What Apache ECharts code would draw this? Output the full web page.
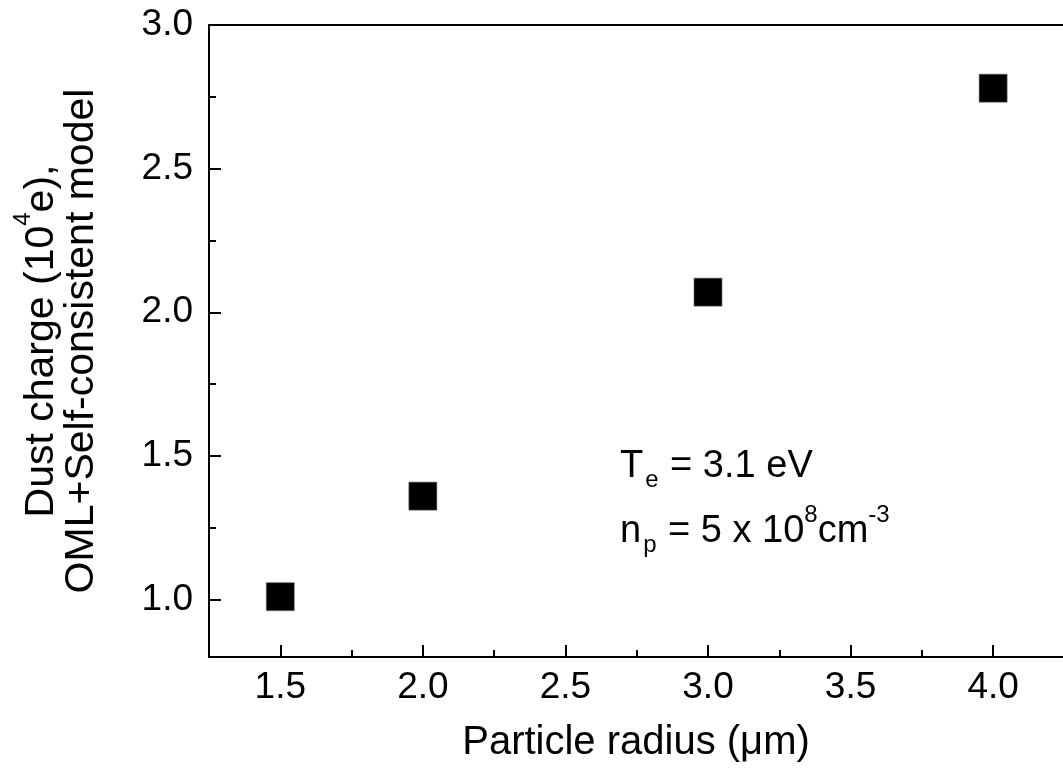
<!DOCTYPE html>
<html>
<head>
<meta charset="utf-8">
<script src="https://cdn.jsdelivr.net/npm/echarts@6/dist/echarts.min.js"></script>
<style>
html,body{margin:0;padding:0;background:#fff;overflow:hidden;}
#chart{width:1063px;height:778px;}
</style>
</head>
<body>
<div id="chart"></div>
<script>
const radius = [1.5, 2.0, 3.0, 4.0];
const charge = [1.01, 1.36, 2.07, 2.78];
const xMajorTicks = [1.5, 2.0, 2.5, 3.0, 3.5, 4.0];
const xMinorTicks = [1.75, 2.25, 2.75, 3.25, 3.75];
const yMajorTicks = [1.0, 1.5, 2.0, 2.5, 3.0];
const yMinorTicks = [1.25, 1.75, 2.25, 2.75];
const xTitle = 'Particle radius (\u03bcm)';
const yTitleLine1 = ['Dust charge (10', '4', 'e),'];
const yTitleLine2 = 'OML+Self-consistent model';
const noteTe = ['T', 'e', ' = 3.1 eV'];
const noteNp = ['n', 'p', ' = 5 x 10', '8', 'cm', '-3'];

const FONT = 'Liberation Sans, Arial, sans-serif';
const TICK_FS = 37;
const TITLE_FS = 40;
const X_MIN = 1.25, X_MAX = 4.245, Y_MIN = 0.8, Y_MAX = 3.0;

const chart = echarts.init(document.getElementById('chart'));
const fmt = v => Number(v).toFixed(1);

function rich(fs) {
  return {
    t: {fontSize: fs, fontFamily: FONT, color: '#000', padding: [10, 0, 0, 0], lineHeight: 40, verticalAlign: 'top'},
    sup: {fontSize: 24, fontFamily: FONT, color: '#000', lineHeight: 24, verticalAlign: 'top'},
    sub: {fontSize: 24, fontFamily: FONT, color: '#000', lineHeight: 24, padding: [30, 1, 0, 2], verticalAlign: 'top'}
  };
}

const option = {
  backgroundColor: '#fff',
  animation: false,
  grid: {left: 209, top: 25, width: 854, height: 632, containLabel: false, outerBoundsMode: 'none'},
  xAxis: [
    {
      type: 'value', min: X_MIN, max: X_MAX, interval: 0.25,
      position: 'bottom',
      name: xTitle, nameLocation: 'middle', nameGap: 66,
      nameTextStyle: {fontSize: TITLE_FS, fontFamily: FONT, color: '#000', verticalAlign: 'top'},
      axisLine: {show: true, onZero: false, lineStyle: {color: '#000', width: 2}},
      axisTick: {show: true, inside: true, length: 12, customValues: xMajorTicks, lineStyle: {color: '#000', width: 2}},
      axisLabel: {show: true, customValues: xMajorTicks, formatter: fmt, fontSize: TICK_FS, fontFamily: FONT, color: '#000', margin: 12},
      splitLine: {show: false}
    },
    {
      type: 'value', min: X_MIN, max: X_MAX, interval: 0.25,
      position: 'bottom',
      axisLine: {show: false},
      axisTick: {show: true, inside: true, length: 7, customValues: xMinorTicks, lineStyle: {color: '#000', width: 2}},
      axisLabel: {show: false},
      splitLine: {show: false}
    },
    {
      type: 'value', min: X_MIN, max: X_MAX, interval: 0.25,
      position: 'top',
      axisLine: {show: true, onZero: false, lineStyle: {color: '#000', width: 2}},
      axisTick: {show: false},
      axisLabel: {show: false},
      splitLine: {show: false}
    }
  ],
  yAxis: [
    {
      type: 'value', min: Y_MIN, max: Y_MAX, interval: 0.1,
      position: 'left',
      name: [
        '{t|' + yTitleLine1[0] + '}{sup|' + yTitleLine1[1] + '}{t|' + yTitleLine1[2] + '}',
        '{t|' + yTitleLine2 + '}'
      ].join('\n'),
      nameLocation: 'middle', nameGap: 118, nameRotate: 90,
      nameTextStyle: {rich: rich(41), align: 'center'},
      axisLine: {show: true, onZero: false, lineStyle: {color: '#000', width: 2}},
      axisTick: {show: true, inside: true, length: 12, customValues: yMajorTicks, lineStyle: {color: '#000', width: 2}},
      axisLabel: {show: true, customValues: yMajorTicks, formatter: fmt, fontSize: TICK_FS, fontFamily: FONT, color: '#000', margin: 16},
      splitLine: {show: false}
    },
    {
      type: 'value', min: Y_MIN, max: Y_MAX, interval: 0.1,
      position: 'left',
      axisLine: {show: false},
      axisTick: {show: true, inside: true, length: 7, customValues: yMinorTicks, lineStyle: {color: '#000', width: 2}},
      axisLabel: {show: false},
      splitLine: {show: false}
    }
  ],
  series: [{
    type: 'scatter',
    xAxisIndex: 0, yAxisIndex: 0,
    symbol: 'rect', symbolSize: 28,
    itemStyle: {color: '#000', opacity: 1, borderColor: '#666', borderWidth: 0.6},
    data: radius.map((r, i) => [r, charge[i]])
  }],
  graphic: [
    {
      type: 'text', left: 620, top: 438,
      style: {
        text: '{t|' + noteTe[0] + '}{sub|' + noteTe[1] + '}{t|' + noteTe[2] + '}',
        rich: rich(38)
      }
    },
    {
      type: 'text', left: 620, top: 503,
      style: {
        text: '{t|' + noteNp[0] + '}{sub|' + noteNp[1] + '}{t|' + noteNp[2] + '}{sup|' + noteNp[3] + '}{t|' + noteNp[4] + '}{sup|' + noteNp[5] + '}',
        rich: rich(38)
      }
    }
  ]
};
chart.setOption(option);
</script>
</body>
</html>
